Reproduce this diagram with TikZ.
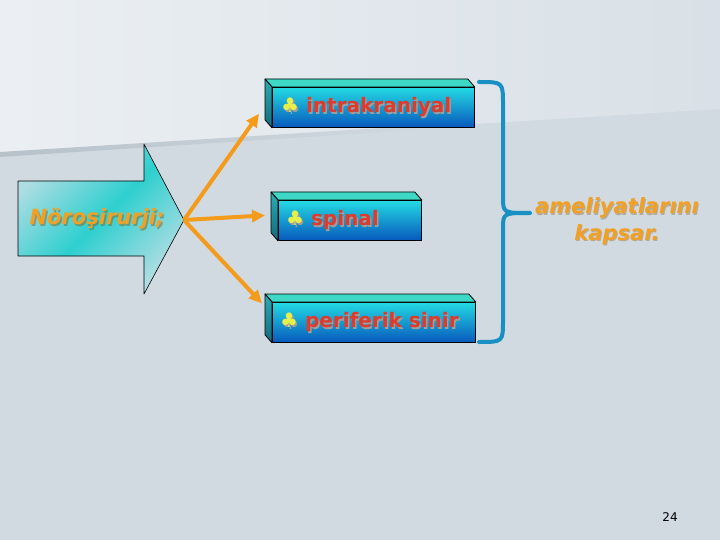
\documentclass[tikz,border=0pt]{standalone}
\usepackage{fontspec}
\setmainfont{DejaVu Sans}
\usetikzlibrary{arrows.meta, positioning, calc}
\definecolor{bgc}{HTML}{D1DAE1}
\definecolor{bglight}{HTML}{EBEFF3}
\definecolor{seamc}{HTML}{B7C1C9}
\definecolor{orc}{HTML}{F59B1C}
\definecolor{txtc}{HTML}{F2A024}
\definecolor{brc}{HTML}{1990C4}
\definecolor{redc}{HTML}{E03A2A}
\definecolor{clubc}{HTML}{E6F04A}
\definecolor{topc}{HTML}{3ED8C6}
\definecolor{sidec}{HTML}{1A8EA6}
\definecolor{frtop}{HTML}{24DAE4}
\definecolor{frbot}{HTML}{0758BC}
\definecolor{arrc}{HTML}{2ECFCF}
\definecolor{arrl}{HTML}{B0DDE2}
\newcommand{\clubtint}{clubc}
\newcommand{\club}{{\fontsize{20}{20}\selectfont\mdseries\color{\clubtint}♣}}
\newcommand{\slab}[5]{%
  \node[draw=black, line width=0.8pt, top color=frtop, bottom color=frbot,
        minimum width=#3, minimum height=40pt, inner sep=0pt,
        anchor=north west] (#1) at #2 {};
  \draw[line width=0.8pt, fill=topc] (#1.north west) -- ++(-7,-8)
    -- ($(#1.north east)+(-7,-8)$) -- (#1.north east) -- cycle;
  \draw[line width=0.8pt, top color=sidec!60!topc, bottom color=sidec!75!black]
    (#1.north west) -- ++(-7,-8) -- ($(#1.south west)+(-7,-8)$)
    -- (#1.south west) -- cycle;
  \node[slabtext, text=black!38] at ($(#1.west)+(#4+1.5,1.5)$)
    {\renewcommand{\clubtint}{black!38}\club\ #5};
  \node[slabtext] (#1-t) at ($(#1.west)+(#4,0)$) {\club\ #5};
}

\begin{document}
\begin{tikzpicture}[x=1pt, y=-1pt, line join=round,
    slabtext/.style={font=\fontsize{20}{24}\selectfont\bfseries, text=redc,
                     anchor=west, inner sep=0pt},
    orarrow/.style={draw=orc, line width=4pt, -{Triangle[length=13pt, width=12pt]}},
    brace/.style={draw=brc, line width=4pt, line cap=round},
    slanted/.style={font=\fontsize{21}{26.5}\selectfont\bfseries\itshape,
                    inner sep=0pt, align=center}]
  \useasboundingbox (0,0) rectangle (720,540);
  % backdrop
  \fill[bgc] (0,0) rectangle (720,540);
  \shade[left color=bglight, right color=bgc!70!bglight]
    (0,0) -- (720,0) -- (720,109) -- (0,153) -- cycle;
  \shade[left color=seamc, right color=bgc]
    (0,152) -- (430,125) -- (430,129) -- (0,157) -- cycle;

  % big arrow
  \coordinate (tip) at (184,220);
  \draw[line width=0.6pt, top color=arrl, bottom color=arrl, middle color=arrc,
        shading angle=45]
    (18,181) -- (144,181) -- (144,144) -- (tip) -- (144,294) -- (144,256)
    -- (18,256) -- cycle;
  \node[slanted, text=orc!55!black, opacity=.45] at (98.5,220.5) {Nöroşirurji;};
  \node[slanted, text=txtc] (noro) at (97,219) {Nöroşirurji;};

  % boxes
  \slab{b1}{(272,87)}{202pt}{9}{intrakraniyal}
  \slab{b2}{(278,200)}{143pt}{8}{spinal}
  \slab{b3}{(272,302)}{203pt}{8}{periferik sinir}

  \draw[orarrow] (tip) -- ($(b1.south west)+(-13,-14)$);
  \draw[orarrow] (tip) -- ($(b2.west)+(-13,-5)$);
  \draw[orarrow] (tip) -- ($(b3.west)+(-10,-19)$);

  % brace
  \coordinate (brtop) at (479,82);
  \coordinate (brmid) at (530,213);
  \coordinate (brbot) at (479,342);
  \draw[brace] (brtop) .. controls (503,82) .. (503,105) -- (503,197)
    .. controls (503,213) .. (brmid) .. controls (503,213) .. (503,229)
    -- (503,320) .. controls (503,342) .. (brbot);

  \node[slanted, text=orc!55!black, opacity=.35] at (618,222.5)
    {ameliyatlarını\\kapsar.};
  \node[slanted, text=txtc] (incl) at (617,221) {ameliyatlarını\\kapsar.};

  \node[font=\fontsize{12}{14}\selectfont, inner sep=0pt] (pg) at (670,517) {24};
\end{tikzpicture}
\end{document}
